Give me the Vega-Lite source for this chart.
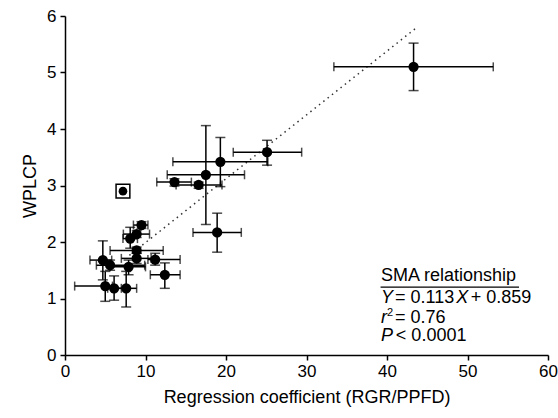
{
  "$schema": "https://vega.github.io/schema/vega-lite/v6.json",
  "width": 483,
  "height": 339,
  "autosize": {"type": "none"},
  "padding": {"left": 65, "top": 16, "right": 10, "bottom": 63},
  "background": "white",
  "config": {
    "view": {"stroke": null},
    "font": "Liberation Sans",
    "axis": {
      "domainColor": "black", "domainWidth": 1.5,
      "tickColor": "black", "tickWidth": 1.5, "tickSize": 5,
      "labelFont": "Liberation Sans", "labelFontSize": 17, "labelColor": "black",
      "titleFont": "Liberation Sans", "titleFontSize": 18, "titleFontWeight": "normal", "titleColor": "black",
      "grid": false
    },
    "axisX": {"labelPadding": 3, "labelFlush": false, "tickCount": 6, "titleY": 42, "titleBaseline": "middle"},
    "axisY": {"labelPadding": 4, "tickCount": 6, "titleX": -35, "titleY": 169.5, "titleAngle": -90, "titleBaseline": "middle", "titleAlign": "center"}
  },
  "datasets": {
    "pts": [
      {"x": 43.3, "y": 5.10, "xlo": 33.4, "xhi": 53.2, "ylo": 4.68, "yhi": 5.52},
      {"x": 25.1, "y": 3.59, "xlo": 20.9, "xhi": 29.4, "ylo": 3.36, "yhi": 3.80},
      {"x": 19.3, "y": 3.42, "xlo": 13.4, "xhi": 25.2, "ylo": 2.98, "yhi": 3.85},
      {"x": 17.5, "y": 3.19, "xlo": 12.7, "xhi": 22.3, "ylo": 2.31, "yhi": 4.06},
      {"x": 13.6, "y": 3.06, "xlo": 11.4, "xhi": 15.7, "ylo": 2.99, "yhi": 3.12},
      {"x": 16.6, "y": 3.01, "xlo": 13.8, "xhi": 19.5, "ylo": 2.95, "yhi": 3.06},
      {"x": 18.9, "y": 2.17, "xlo": 15.9, "xhi": 21.9, "ylo": 1.82, "yhi": 2.51},
      {"x": 9.5, "y": 2.30, "xlo": 8.5, "xhi": 10.3, "ylo": 2.24, "yhi": 2.36},
      {"x": 8.9, "y": 2.14, "xlo": 7.25, "xhi": 10.5, "ylo": 2.08, "yhi": 2.20},
      {"x": 8.1, "y": 2.06, "xlo": 7.2, "xhi": 9.0, "ylo": 1.89, "yhi": 2.26},
      {"x": 8.9, "y": 1.85, "xlo": 5.6, "xhi": 12.2, "ylo": 1.80, "yhi": 1.91},
      {"x": 8.9, "y": 1.71, "xlo": 7.0, "xhi": 10.7, "ylo": 1.62, "yhi": 1.80},
      {"x": 11.2, "y": 1.69, "xlo": 10.3, "xhi": 14.3, "ylo": 1.59, "yhi": 1.80},
      {"x": 4.7, "y": 1.68, "xlo": 3.1, "xhi": 5.8, "ylo": 1.33, "yhi": 2.02},
      {"x": 5.6, "y": 1.59, "xlo": 3.9, "xhi": 9.9, "ylo": 1.50, "yhi": 1.68},
      {"x": 7.9, "y": 1.56, "xlo": 5.6, "xhi": 10.0, "ylo": 1.42, "yhi": 1.68},
      {"x": 12.4, "y": 1.42, "xlo": 10.6, "xhi": 14.3, "ylo": 1.18, "yhi": 1.63},
      {"x": 5.0, "y": 1.22, "xlo": 1.2, "xhi": 5.9, "ylo": 0.95, "yhi": 1.48},
      {"x": 6.1, "y": 1.18, "xlo": 5.3, "xhi": 7.0, "ylo": 0.97, "yhi": 1.40},
      {"x": 7.6, "y": 1.18, "xlo": 5.8, "xhi": 8.9, "ylo": 0.85, "yhi": 1.48}
    ],
    "outlier": [{"x": 7.2, "y": 2.9}],
    "fit": [{"x": 8, "y": 1.763}, {"x": 43.5, "y": 5.775}],
    "ann": [
      {"tx": 39.25, "ty": 1.39, "label": "SMA relationship", "part": "plain"},
      {"tx": 39.25, "ty": 1.01, "label": "Y", "part": "var"},
      {"tx": 41.0, "ty": 1.01, "label": "= 0.113", "part": "plain"},
      {"tx": 48.6, "ty": 1.01, "label": "X", "part": "var"},
      {"tx": 50.4, "ty": 1.01, "label": "+ 0.859", "part": "plain"},
      {"tx": 39.25, "ty": 0.66, "label": "r", "part": "var"},
      {"tx": 40.0, "ty": 0.74, "label": "2", "part": "sup"},
      {"tx": 41.0, "ty": 0.66, "label": "= 0.76", "part": "plain"},
      {"tx": 39.25, "ty": 0.33, "label": "P", "part": "var"},
      {"tx": 41.1, "ty": 0.33, "label": "< 0.0001", "part": "plain"}
    ],
    "underline": [{"x1": 39.2, "x2": 56.4, "y": 1.2}]
  },
  "layer": [
    {
      "data": {"name": "fit"},
      "mark": {"type": "line", "strokeDash": [1.5, 4], "strokeWidth": 1.5, "color": "#333"},
      "encoding": {
        "x": {"field": "x", "type": "quantitative", "title": "Regression coefficient (RGR/PPFD)", "scale": {"domain": [0, 60], "nice": false}},
        "y": {"field": "y", "type": "quantitative", "title": "WPLCP", "scale": {"domain": [0, 6], "nice": false}}
      }
    },
    {
      "data": {"name": "pts"},
      "mark": {"type": "errorbar", "ticks": {"size": 9, "thickness": 1.5, "color": "black"}, "rule": {"strokeWidth": 1.5, "color": "black"}},
      "encoding": {
        "x": {"field": "xlo", "type": "quantitative", "title": "Regression coefficient (RGR/PPFD)"},
        "x2": {"field": "xhi"},
        "y": {"field": "y", "type": "quantitative", "title": "WPLCP"}
      }
    },
    {
      "data": {"name": "pts"},
      "mark": {"type": "errorbar", "ticks": {"size": 10, "thickness": 1.5, "color": "black"}, "rule": {"strokeWidth": 1.5, "color": "black"}},
      "encoding": {
        "x": {"field": "x", "type": "quantitative", "title": "Regression coefficient (RGR/PPFD)"},
        "y": {"field": "ylo", "type": "quantitative", "title": "WPLCP"},
        "y2": {"field": "yhi"}
      }
    },
    {
      "data": {"name": "pts"},
      "mark": {"type": "point", "shape": "circle", "filled": true, "color": "black", "opacity": 1, "size": 105},
      "encoding": {
        "x": {"field": "x", "type": "quantitative", "title": "Regression coefficient (RGR/PPFD)"},
        "y": {"field": "y", "type": "quantitative", "title": "WPLCP"}
      }
    },
    {
      "data": {"name": "outlier"},
      "mark": {"type": "point", "shape": "square", "filled": false, "color": "black", "strokeWidth": 1.5, "opacity": 1, "size": 190},
      "encoding": {
        "x": {"field": "x", "type": "quantitative", "title": "Regression coefficient (RGR/PPFD)"},
        "y": {"field": "y", "type": "quantitative", "title": "WPLCP"}
      }
    },
    {
      "data": {"name": "outlier"},
      "mark": {"type": "point", "shape": "circle", "filled": true, "color": "black", "opacity": 1, "size": 75},
      "encoding": {
        "x": {"field": "x", "type": "quantitative", "title": "Regression coefficient (RGR/PPFD)"},
        "y": {"field": "y", "type": "quantitative", "title": "WPLCP"}
      }
    },
    {
      "data": {"name": "ann"},
      "transform": [{"filter": "datum.part === 'plain'"}],
      "mark": {"type": "text", "align": "left", "baseline": "middle", "fontSize": 18, "color": "black", "font": "Liberation Sans"},
      "encoding": {
        "x": {"field": "tx", "type": "quantitative", "title": "Regression coefficient (RGR/PPFD)"},
        "y": {"field": "ty", "type": "quantitative", "title": "WPLCP"},
        "text": {"field": "label"}
      }
    },
    {
      "data": {"name": "ann"},
      "transform": [{"filter": "datum.part === 'var'"}],
      "mark": {"type": "text", "align": "left", "baseline": "middle", "fontSize": 18, "fontStyle": "italic", "color": "black", "font": "Liberation Sans"},
      "encoding": {
        "x": {"field": "tx", "type": "quantitative", "title": "Regression coefficient (RGR/PPFD)"},
        "y": {"field": "ty", "type": "quantitative", "title": "WPLCP"},
        "text": {"field": "label"}
      }
    },
    {
      "data": {"name": "ann"},
      "transform": [{"filter": "datum.part === 'sup'"}],
      "mark": {"type": "text", "align": "left", "baseline": "middle", "fontSize": 11, "color": "black", "font": "Liberation Sans"},
      "encoding": {
        "x": {"field": "tx", "type": "quantitative", "title": "Regression coefficient (RGR/PPFD)"},
        "y": {"field": "ty", "type": "quantitative", "title": "WPLCP"},
        "text": {"field": "label"}
      }
    },
    {
      "data": {"name": "underline"},
      "mark": {"type": "rule", "color": "black", "strokeWidth": 1.2},
      "encoding": {
        "x": {"field": "x1", "type": "quantitative", "title": "Regression coefficient (RGR/PPFD)"},
        "x2": {"field": "x2"},
        "y": {"field": "y", "type": "quantitative", "title": "WPLCP"}
      }
    }
  ]
}
